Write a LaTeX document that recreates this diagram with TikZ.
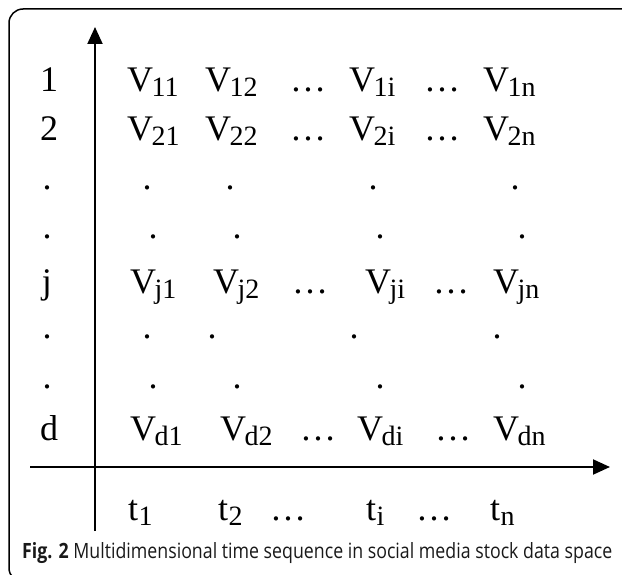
\documentclass[tikz,border=0pt]{standalone}
\usepackage{fontspec}
\setmainfont{Liberation Serif}
\newfontfamily\capfont{Open Sans}
\usetikzlibrary{arrows.meta}
\newcommand{\VV}[1]{V\kern-1.5pt\raisebox{-5pt}{\fontsize{28}{28}\selectfont #1}}
\newcommand{\TT}[1]{t\kern0.5pt\raisebox{-5pt}{\fontsize{28}{28}\selectfont #1}}
\begin{document}
\begin{tikzpicture}[x=1pt,y=-1pt,
  lab/.style={font=\fontsize{36}{36}\selectfont, inner sep=0pt, anchor=base west},
  pt/.style={font=\fontsize{36}{36}\selectfont, inner sep=0pt, anchor=base},
  axisarrow/.style={line width=2pt, -{Triangle[length=17pt,width=15pt]}}]
\useasboundingbox (0,0) rectangle (622,575);
\begin{scope}
\clip (0,0) rectangle (622,575);
\draw[line width=1.5pt, rounded corners=14pt] (640,9) -- (9,9) -- (9,582) -- (40,582);
\end{scope}
% axes
\coordinate (yb) at (95,531);
\coordinate (yt) at (95,27);
\coordinate (xl) at (30,467);
\coordinate (xr) at (610,467);
\draw[axisarrow] (yb) -- (yt);
\draw[axisarrow] (xl) -- (xr);
% row labels
\node[pt] (r1) at (49,92) {1};
\node[pt] (r2) at (49,141) {2};
\node[pt] (ra) at (47,190) {.};
\node[pt] (rb) at (47,239) {.};
\node[pt] (rj) at (47,294) {j};
\node[pt] (rc) at (47,338) {.};
\node[pt] (rd2) at (47,388) {.};
\node[pt] (rd) at (49,440) {d};
% row 1
\node[lab] (v11) at (127,92) {\VV{11}};
\node[lab] (v12) at (205,92) {\VV{12}};
\node[lab] (e11) at (290,92) {…};
\node[lab] (v1i) at (349,92) {\VV{1i}};
\node[lab] (e12) at (424,92) {…};
\node[lab] (v1n) at (483,92) {\VV{1n}};
% row 2
\node[lab] (v21) at (127,141) {\VV{21}};
\node[lab] (v22) at (205,141) {\VV{22}};
\node[lab] (e21) at (290,141) {…};
\node[lab] (v2i) at (349,141) {\VV{2i}};
\node[lab] (e22) at (424,141) {…};
\node[lab] (v2n) at (483,141) {\VV{2n}};
% dot rows
\node[pt] (da1) at (147,190) {.};
\node[pt] (da2) at (230,190) {.};
\node[pt] (da3) at (373,190) {.};
\node[pt] (da4) at (515,190) {.};
\node[pt] (db1) at (153,239) {.};
\node[pt] (db2) at (237,239) {.};
\node[pt] (db3) at (380,239) {.};
\node[pt] (db4) at (522,239) {.};
% row j
\node[lab] (vj1) at (130,294) {\VV{j1}};
\node[lab] (vj2) at (213,294) {\VV{j2}};
\node[lab] (ej1) at (292,294) {…};
\node[lab] (vji) at (365,294) {\VV{ji}};
\node[lab] (ej2) at (433,294) {…};
\node[lab] (vjn) at (493,294) {\VV{jn}};
% dot rows
\node[pt] (dc1) at (147,338) {.};
\node[pt] (dc2) at (212,338) {.};
\node[pt] (dc3) at (354,338) {.};
\node[pt] (dc4) at (497,338) {.};
\node[pt] (dd1) at (153,388) {.};
\node[pt] (dd2) at (237,388) {.};
\node[pt] (dd3) at (380,388) {.};
\node[pt] (dd4) at (522,388) {.};
% row d
\node[lab] (vd1) at (130,440) {\VV{d1}};
\node[lab] (vd2) at (220,440) {\VV{d2}};
\node[lab] (ed1) at (300,440) {…};
\node[lab] (vdi) at (357,440) {\VV{di}};
\node[lab] (ed2) at (435,440) {…};
\node[lab] (vdn) at (493,440) {\VV{dn}};
% time row
\node[lab] (t1) at (128,520) {\TT{1}};
\node[lab] (t2) at (218,520) {\TT{2}};
\node[lab] (et1) at (270,520) {…};
\node[lab] (ti) at (366,520) {\TT{i}};
\node[lab] (et2) at (416,520) {…};
\node[lab] (tn) at (490,520) {\TT{n}};
% caption
\node[inner sep=0pt, anchor=base west, text=black!90] (cap) at (22,558)
  {\resizebox{590pt}{16pt}{\capfont\textbf{Fig. 2} Multidimensional time sequence in social media stock data space}};
\end{tikzpicture}
\end{document}
